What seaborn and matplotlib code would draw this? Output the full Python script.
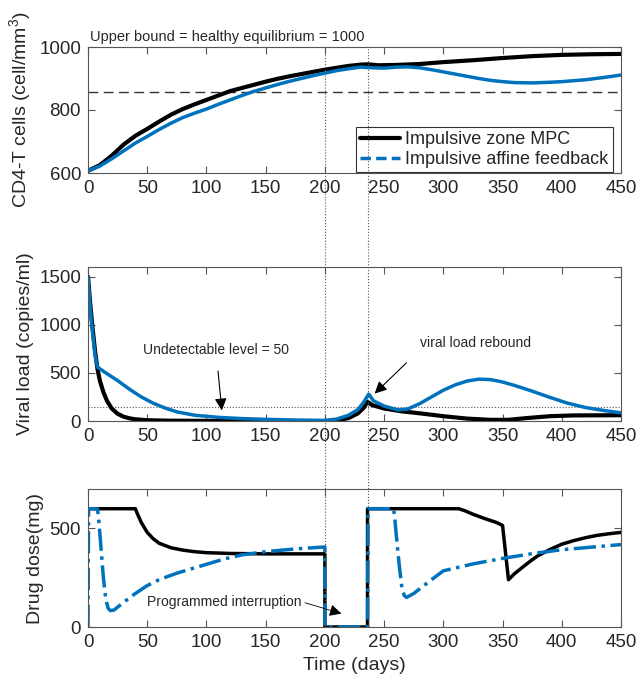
import matplotlib
matplotlib.use("Agg")
import matplotlib.pyplot as plt
import matplotlib.transforms as mtransforms
from matplotlib.lines import Line2D
import seaborn as sns
import numpy as np
import pandas as pd

# ---------------- data ----------------
# CD4-T cells
cd4_mpc_t = [0, 10, 20, 30, 40, 50, 60, 70, 80, 90, 100, 110, 120, 130, 140, 150, 160, 170, 180, 190,
             200, 210, 220, 230, 236, 245, 260, 280, 300, 325, 350, 375, 400, 425, 450]
cd4_mpc_v = [607, 625, 655, 690, 718, 740, 763, 785, 803, 818, 832, 846, 860, 870, 880, 890, 899, 907, 914, 921,
             928, 934, 940, 944, 945, 942, 943, 946, 952, 958, 965, 971, 975, 977, 978]
cd4_aff_t = [0, 10, 20, 30, 40, 50, 60, 70, 80, 90, 100, 110, 120, 130, 140, 150, 160, 170, 180, 190,
             200, 210, 220, 230, 240, 250, 260, 270, 280, 290, 300, 310, 320, 330, 340, 350, 360, 375,
             390, 400, 420, 435, 450]
cd4_aff_v = [607, 622, 645, 670, 695, 716, 738, 758, 776, 790, 803, 818, 832, 846, 859, 870, 881, 891, 900, 909,
             917, 925, 931, 936, 934, 933, 936, 937, 934, 928, 921, 914, 907, 900, 894, 890, 887, 886,
             888, 890, 896, 903, 911]

# Viral load
vl_mpc_t = [0, 2, 4, 6, 8, 10, 13, 16, 20, 25, 30, 35, 40, 50, 70, 100, 150, 200, 210, 220, 228, 233, 236,
            240, 250, 265, 280, 300, 320, 340, 355, 370, 390, 410, 450]
vl_mpc_v = [1500, 1200, 950, 720, 540, 420, 300, 210, 130, 75, 45, 28, 18, 8, 3, 1, 0, 0, 8, 30, 80, 140, 200,
            165, 130, 100, 80, 50, 25, 12, 12, 30, 50, 58, 60]
vl_aff_t = [0, 2, 4, 6, 8, 15, 25, 35, 45, 55, 65, 75, 90, 110, 130, 150, 175, 200, 210, 220, 228, 233, 237,
            241, 250, 262, 270, 280, 290, 300, 310, 320, 330, 340, 350, 360, 375, 390, 405, 420, 435, 450]
vl_aff_v = [1500, 1150, 900, 680, 560, 500, 420, 330, 250, 185, 135, 95, 60, 38, 25, 17, 10, 5, 20, 60, 120, 200, 280,
            210, 155, 115, 125, 180, 250, 320, 375, 415, 435, 430, 405, 370, 310, 245, 185, 140, 110, 85]

# Drug dose
dd_mpc_t = [0, 40, 42, 45, 50, 55, 60, 70, 80, 90, 100, 120, 150, 200, 200, 236, 236, 313, 318, 325, 335, 345,
            350, 355, 360, 370, 375, 380, 390, 400, 410, 420, 430, 440, 450]
dd_mpc_v = [600, 600, 570, 530, 480, 448, 425, 402, 390, 382, 377, 373, 371, 371, 0, 0, 600, 600, 590, 572, 550, 530,
            515, 240, 270, 318, 341, 362, 393, 420, 438, 453, 465, 473, 480]
dd_aff_t = [0, 0.5, 8, 9, 11, 13, 15, 17, 19, 22, 30, 40, 50, 60, 75, 90, 100, 115, 130, 150, 175, 200, 200,
            236, 236.5, 258, 259, 261, 263, 265, 267, 269, 275, 290, 300, 325, 350, 375, 400, 425, 450]
dd_aff_v = [0, 600, 600, 550, 400, 250, 140, 95, 83, 86, 125, 170, 210, 240, 273, 300, 318, 345, 366, 382, 396, 406, 0,
            0, 600, 600, 550, 420, 300, 200, 160, 150, 170, 240, 285, 320, 348, 372, 392, 405, 418]

xticks = [0, 50, 100, 150, 200, 250, 300, 350, 400, 450]
interruption = [200, 236]

# ---------------- style ----------------
sns.set_style("ticks")
plt.rcParams['font.family'] = ['Liberation Sans', 'DejaVu Sans']
plt.rcParams['mathtext.fontset'] = 'custom'
plt.rcParams['mathtext.rm'] = 'Liberation Sans'

BLUE = '#0072BD'
SPINE = '#555555'

fig = plt.figure(figsize=(6.36, 6.96), dpi=100)
L, W = 88 / 636, 533 / 636
ax1 = fig.add_axes([L, 1 - 173 / 696, W, 126 / 696])
ax2 = fig.add_axes([L, 1 - 421 / 696, W, 154 / 696])
ax3 = fig.add_axes([L, 1 - 627 / 696, W, 138 / 696])


def line(ax, t, v, color, lw, ls='-', z=2):
    df = pd.DataFrame({'t': t, 'v': v})
    sns.lineplot(data=df, x='t', y='v', ax=ax, color=color, linewidth=lw, linestyle=ls,
                 estimator=None, sort=False, zorder=z, legend=False)


line(ax1, cd4_mpc_t, cd4_mpc_v, 'black', 3.0)
line(ax1, cd4_aff_t, cd4_aff_v, BLUE, 2.5)
line(ax2, vl_mpc_t, vl_mpc_v, 'black', 3.0)
line(ax2, vl_aff_t, vl_aff_v, BLUE, 2.5)
line(ax3, dd_mpc_t, dd_mpc_v, 'black', 2.5)
line(ax3, dd_aff_t, dd_aff_v, BLUE, 2.5, ls='-.')

for ax in (ax1, ax2, ax3):
    ax.set_xlim(0, 450)
    ax.set_xticks(xticks)
    ax.set_xlabel('')
    ax.tick_params(direction='in', top=True, right=True, length=5, width=0.8,
                   color=SPINE, labelsize=13.5, pad=5)
    for s in ax.spines.values():
        s.set_color(SPINE)
        s.set_linewidth(0.8)

ax1.set_ylim(600, 1000)
ax1.set_yticks([600, 800, 1000])
ax1.set_ylabel('CD4-T cells (cell/mm$^3$)', fontsize=14)
ax1.axhline(857, color='#333333', lw=1.0, ls=(0, (7, 4)), zorder=1)
ax1.text(2, 1010, 'Upper bound = healthy equilibrium = 1000', fontsize=10.5, ha='left', va='bottom')

handles = [Line2D([], [], color='black', lw=3.0),
           Line2D([], [], color=BLUE, lw=2.5, ls=(0, (3, 1.5)))]
leg = ax1.legend(handles, ['Impulsive zone MPC', 'Impulsive affine feedback'],
                 loc='lower right', bbox_to_anchor=(0.985, 0.005), fontsize=13,
                 frameon=True, fancybox=False, edgecolor='#333333', framealpha=1,
                 borderaxespad=0, handlelength=2.2, handletextpad=0.3, borderpad=0.25,
                 labelspacing=0.15)
leg.get_frame().set_linewidth(0.8)

ax2.set_ylim(0, 1600)
ax2.set_yticks([0, 500, 1000, 1500])
ax2.set_ylabel('Viral load (copies/ml)', fontsize=14)
ax2.axhline(150, color='#555555', lw=0.8, ls=':', zorder=1)
ax2.annotate('Undetectable level = 50', xy=(113, 110), xytext=(108, 740),
             ha='center', va='center', fontsize=10,
             arrowprops=dict(arrowstyle='-|>', color='black', lw=0.8, mutation_scale=18,
                             shrinkA=8, shrinkB=0))
ax2.annotate('viral load rebound', xy=(242, 285), xytext=(280, 810),
             ha='left', va='center', fontsize=10,
             arrowprops=dict(arrowstyle='-|>', color='black', lw=0.8, mutation_scale=18,
                             shrinkA=10, shrinkB=0, relpos=(0.0, 0.0)))

ax3.set_ylim(0, 700)
ax3.set_yticks([0, 500])
ax3.set_ylabel('Drug dose(mg)', fontsize=14)
ax3.set_xlabel('Time (days)', fontsize=14)
ax3.annotate('Programmed interruption', xy=(214, 68), xytext=(50, 128),
             ha='left', va='center', fontsize=10,
             arrowprops=dict(arrowstyle='-|>', color='black', lw=0.6, mutation_scale=18,
                             shrinkA=0, shrinkB=0, relpos=(1.0, 0.5)))

fig.align_ylabels([ax1, ax2, ax3])

# dotted vertical lines through all panels
trans = mtransforms.blended_transform_factory(ax3.transData, fig.transFigure)
for x in interruption:
    fig.add_artist(Line2D([x, x], [1 - 627 / 696, 1 - 47 / 696], transform=trans,
                          color='#555555', lw=0.8, ls=':', zorder=5))

fig.savefig('out.png', dpi=100)
